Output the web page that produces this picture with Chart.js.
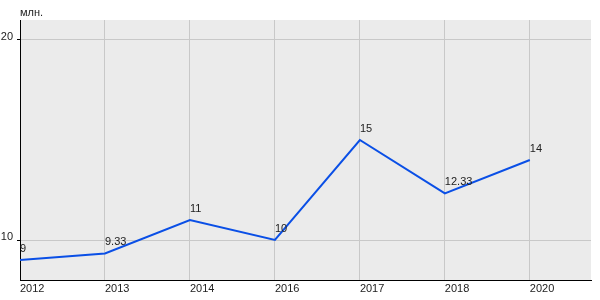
<!DOCTYPE html>
<html>
<head>
<meta charset="utf-8">
<script src="https://cdn.jsdelivr.net/npm/chart.js@4"></script>
<style>
  html, body { margin: 0; padding: 0; background: #fff; }
  #wrap { width: 600px; height: 300px; }
</style>
</head>
<body>
<div id="wrap"><canvas id="c" width="600" height="300"></canvas></div>
<script>
const years = ['2012', '2013', '2014', '2016', '2017', '2018', '2020'];
const values = [9, 9.33, 11, 10, 15, 12.33, 14];
const yTicks = [10, 20];
const unitLabel = 'млн.';

const font = { family: '"Liberation Sans", Arial, sans-serif', size: 11 };

// grey plot area + unit caption
const backdrop = {
  id: 'backdrop',
  beforeDraw(chart) {
    const { ctx, chartArea: a } = chart;
    ctx.save();
    ctx.fillStyle = '#ebebeb';
    ctx.fillRect(a.left, a.top, a.right - a.left, a.bottom - a.top);
    ctx.fillStyle = '#222';
    ctx.font = '11px ' + font.family;
    ctx.textAlign = 'left';
    ctx.textBaseline = 'middle';
    ctx.fillText(unitLabel, a.left, 13);
    ctx.restore();
  }
};

// value labels above points
const valueLabels = {
  id: 'valueLabels',
  afterDatasetsDraw(chart) {
    const { ctx } = chart;
    const meta = chart.getDatasetMeta(0);
    ctx.save();
    ctx.fillStyle = '#222';
    ctx.font = '11px ' + font.family;
    ctx.textAlign = 'left';
    ctx.textBaseline = 'middle';
    meta.data.forEach((pt, i) => {
      ctx.fillText(String(values[i]), pt.x, pt.y - 11);
    });
    ctx.restore();
  }
};

new Chart(document.getElementById('c'), {
  type: 'line',
  data: {
    datasets: [{
      data: values.map((v, i) => ({ x: i, y: v })),
      borderColor: '#0a4fe6',
      borderWidth: 2,
      tension: 0,
      pointRadius: 0,
      fill: false
    }]
  },
  options: {
    responsive: false,
    animation: false,
    layout: { padding: { left: 0, right: 9, top: 20, bottom: 0 } },
    plugins: { legend: { display: false }, tooltip: { enabled: false } },
    scales: {
      x: {
        type: 'linear',
        min: 0,
        max: 6.72,
        afterBuildTicks(scale) { scale.ticks = years.map((_, i) => ({ value: i })); },
        afterFit(scale) { scale.height = 20; },
        grid: { color: '#c8c8c8', lineWidth: 1, drawTicks: false },
        border: { color: '#000', width: 1 },
        ticks: {
          align: 'start',
          padding: 2,
          maxRotation: 0,
          color: '#222',
          font,
          callback: (v) => years[v]
        }
      },
      y: {
        min: 8,
        max: 21,
        afterBuildTicks(scale) { scale.ticks = yTicks.map(v => ({ value: v })); },
        afterFit(scale) { scale.width = 20; },
        grid: { color: '#c8c8c8', lineWidth: 1, tickLength: 3, tickColor: '#000' },
        border: { color: '#000', width: 1 },
        ticks: { padding: 4, labelOffset: -3, color: '#222', font }
      }
    }
  },
  plugins: [backdrop, valueLabels]
});
</script>
</body>
</html>
